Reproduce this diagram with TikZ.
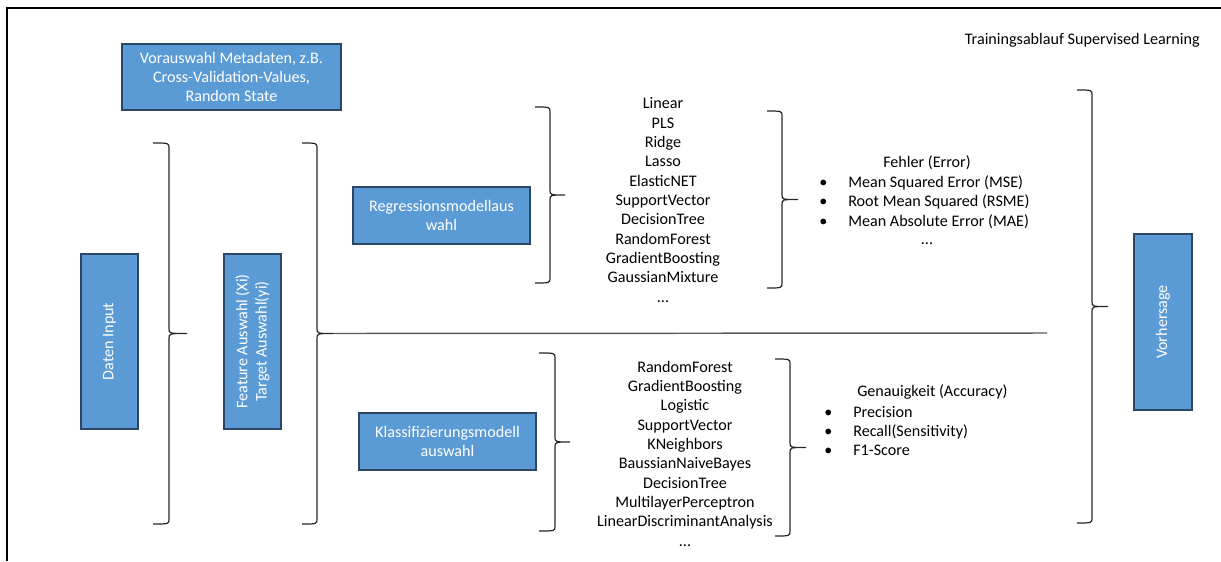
\documentclass[tikz,border=0pt]{standalone}
\usepackage{fontspec}
\setmainfont{Carlito}

\definecolor{kastenblau}{HTML}{5B9BD5}
\definecolor{kastenrand}{HTML}{2B4764}

% Aufzaehlungspunkt mit fester Breite
\newcommand{\punkt}{\makebox[21.75pt][l]{\textbullet}}

% geschweifte Klammer: Name der Spitze, x Ende, x Linie, x Spitze, y oben, y unten
\newcommand{\klammer}[6]{%
  \draw[klammerlinie] (#2,#5) .. controls (#3,#5) .. (#3,#5+5)
    -- (#3,{(#5+#6)/2-5}) .. controls (#3,{(#5+#6)/2}) .. (#4,{(#5+#6)/2})
    coordinate (#1)
    .. controls (#3,{(#5+#6)/2}) .. (#3,{(#5+#6)/2+5})
    -- (#3,#6-5) .. controls (#3,#6) .. (#2,#6);}

\tikzset{
  kasten/.style={draw=kastenrand, line width=1.3pt, fill=kastenblau,
    text=white, align=center, inner sep=0pt},
  liste/.style={align=center, inner sep=0pt},
  punkte/.style={align=left, inner sep=0pt, anchor=west},
  klammerlinie/.style={line width=0.9pt, black!85},
}

\begin{document}
\begin{tikzpicture}[x=0.75pt, y=-0.75pt,
  every node/.style={font=\fontsize{12.1}{14.5}\selectfont}]
 \useasboundingbox (0,0) rectangle (1221,561);
 % Rahmen oben und links
 \draw[line width=1.3pt] (1221,8) -- (7,8) -- (7,561);
 \node[anchor=east, inner sep=0pt] (titel) at (1200,40) {Trainingsablauf Supervised Learning};

 \node[kasten, minimum width=164.25pt, minimum height=49.5pt] (meta) at (231.5,77)
   {Vorauswahl Metadaten, z.B.\\Cross-Validation-Values,\\Random State};
 \node[kasten, rotate=90, minimum width=131.25pt, minimum height=42.75pt] (daten) at (109.5,341.5)
   {Daten Input};
 \node[kasten, rotate=90, minimum width=131.25pt, minimum height=42.75pt] (merkmal) at (252.5,341.5)
   {Feature Auswahl (Xi)\\Target Auswahl(yi)};
 \node[kasten, minimum width=132.75pt, minimum height=42.75pt] (regression) at (441.5,215.5)
   {Regressionsmodellaus\\wahl};
 \node[kasten, minimum width=132.75pt, minimum height=42.75pt] (klassifikation) at (447.5,441.5)
   {Klassifizierungsmodell\\auswahl};
 \node[kasten, rotate=90, minimum width=132pt, minimum height=43.5pt] (vorhersage) at (1163,322)
   {Vorhersage};

 \klammer{k1}{153}{169}{187}{143}{524}
 \klammer{k2}{302}{317}{333}{143}{524}
 \klammer{k3}{535}{550}{565}{107}{283}
 \klammer{k4}{767}{782}{798}{111}{288}
 \klammer{k5}{1077}{1092}{1108}{90}{523}
 \klammer{k6}{539}{555}{570}{353}{531}
 \klammer{k7}{775}{790}{806}{359}{536}

 % Trennlinie Regression / Klassifikation
 \coordinate (trennende) at (1047,333);
 \draw[line width=1.1pt, black!65] (k2) -- (trennende);

 \node[liste] (regliste) at (663,200)
   {Linear\\PLS\\Ridge\\Lasso\\ElasticNET\\SupportVector\\DecisionTree\\RandomForest\\GradientBoosting\\GaussianMixture\\...};
 \node[liste] (klassliste) at (685,453.5)
   {RandomForest\\GradientBoosting\\Logistic\\SupportVector\\KNeighbors\\BaussianNaiveBayes\\DecisionTree\\MultilayerPerceptron\\LinearDiscriminantAnalysis\\...};

 \node[inner sep=0pt] (fehler) at (927,163) {Fehler (Error)};
 \node[punkte] (fehlerliste) at (819,202)
   {\punkt Mean Squared Error (MSE)\\\punkt Root Mean Squared (RSME)\\\punkt Mean Absolute Error (MAE)};
 \node[inner sep=0pt] (fehlerrest) at (927,244) {...};

 \node[anchor=west, inner sep=0pt] (genau) at (857,392) {Genauigkeit (Accuracy)};
 \node[punkte] (genauliste) at (824,431)
   {\punkt Precision\\\punkt Recall(Sensitivity)\\\punkt F1-Score};
\end{tikzpicture}
\end{document}
